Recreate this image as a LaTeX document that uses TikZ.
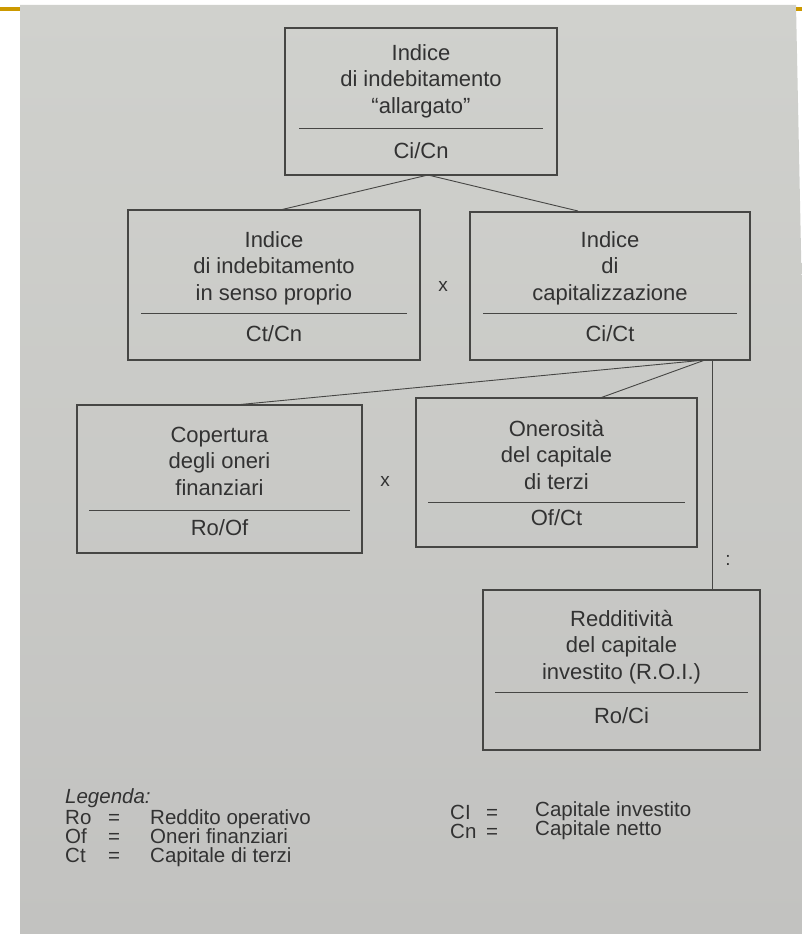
\documentclass[tikz,border=0pt]{standalone}
\usepackage{fontspec}
\setmainfont{Liberation Sans}
\definecolor{pagetop}{RGB}{208,209,205}
\definecolor{pagebot}{RGB}{194,194,192}
\definecolor{ink}{RGB}{50,50,50}
\definecolor{linec}{RGB}{70,70,68}
\definecolor{barc}{RGB}{204,153,0}
\tikzset{
  box/.style={draw=linec, line width=1.2pt, rectangle, inner sep=0pt},
  lbl/.style={text=ink, align=center, font=\fontsize{22}{26.5}\selectfont, inner sep=0pt},
  divider/.style={draw=linec, line width=0.9pt},
  conn/.style={draw=linec, line width=0.9pt},
  leg/.style={text=ink, anchor=base west, font=\fontsize{20.5}{22}\selectfont, inner sep=0pt},
  opx/.style={text=ink, font=\fontsize{19}{22}\selectfont, inner sep=0pt}
}
\begin{document}
\begin{tikzpicture}[x=1pt,y=-1pt]
\useasboundingbox (0,0) rectangle (802,934);
\fill[white] (0,0) rectangle (802,934);
\shade[top color=pagetop, bottom color=pagebot] (20,5) -- (796,5) -- (802,300) -- (802,934) -- (20,934) -- cycle;
\fill[barc] (0,7) rectangle (20,11);
\fill[barc] (796,7) rectangle (802,11);

% top box
\node[box, minimum width=272, minimum height=147] (top) at (421,101.5) {};
\node[lbl] (topt) at (421,81) {Indice\\di indebitamento\\“allargato”};
\node[lbl] (topf) at (421,151) {Ci/Cn};
\draw[divider] ([xshift=15]top.west |- 0,128) coordinate (topd1) -- ([xshift=-15]top.east |- 0,128) coordinate (topd2);

% middle left
\node[box, minimum width=292, minimum height=150] (ml) at (274,285) {};
\node[lbl] (mlt) at (274,268) {Indice\\di indebitamento\\in senso proprio};
\node[lbl] (mlf) at (274,334) {Ct/Cn};
\draw[divider] ([xshift=14]ml.west |- 0,313) coordinate (mld1) -- ([xshift=-14]ml.east |- 0,313) coordinate (mld2);

% middle right
\node[box, minimum width=280, minimum height=148] (mr) at (610,286) {};
\node[lbl] (mrt) at (610,268) {Indice\\di\\capitalizzazione};
\node[lbl] (mrf) at (610,334) {Ci/Ct};
\draw[divider] ([xshift=14]mr.west |- 0,313) coordinate (mrd1) -- ([xshift=-14]mr.east |- 0,313) coordinate (mrd2);

\node[opx] (x1) at (443,286) {x};

% bottom left
\node[box, minimum width=285, minimum height=148] (bl) at (219.5,479) {};
\node[lbl] (blt) at (219.5,461) {Copertura\\degli oneri\\finanziari};
\node[lbl] (blf) at (219.5,528) {Ro/Of};
\draw[divider] ([xshift=13]bl.west |- 0,510) coordinate (bld1) -- ([xshift=-13]bl.east |- 0,510) coordinate (bld2);

% onerosita
\node[box, minimum width=281, minimum height=149] (on) at (556.5,472.5) {};
\node[lbl] (ont) at (556.5,455) {Onerosità\\del capitale\\di terzi};
\node[lbl] (onf) at (556.5,518) {Of/Ct};
\draw[divider] ([xshift=13]on.west |- 0,502) coordinate (ond1) -- ([xshift=-13]on.east |- 0,502) coordinate (ond2);

\node[opx] (x2) at (385,481) {x};

% ROI
\node[box, minimum width=277, minimum height=160] (roi) at (621.5,670) {};
\node[lbl] (roit) at (621.5,647) {Redditività\\del capitale\\investito (R.O.I.)};
\node[lbl] (roif) at (621.5,716) {Ro/Ci};
\draw[divider] ([xshift=13]roi.west |- 0,692) coordinate (roid1) -- ([xshift=-13]roi.east |- 0,692) coordinate (roid2);

\node[opx] (col) at (728,560) {:};

% connectors
\coordinate (topb) at (428,175);
\coordinate (mlin) at (280,210);
\coordinate (mrin) at (578,211);
\draw[conn] (topb) -- (mlin);
\draw[conn] (topb) -- (mrin);
\coordinate (mrb) at (705,360);
\coordinate (blin) at (235,405);
\coordinate (onin) at (600,398);
\coordinate (vtop) at (712,360);
\coordinate (vbot) at (712,590);
\draw[conn] (mrb) -- (blin);
\draw[conn] (mrb) -- (onin);
\draw[conn] (vtop) -- (vbot);

% legend
\node[leg, font=\fontsize{20.5}{22}\selectfont\itshape] (lg) at (65,803) {Legenda:};
\node[leg] (k1) at (65,824) {Ro};
\node[leg] (e1) at (108,824) {=};
\node[leg] (d1) at (150,824) {Reddito operativo};
\node[leg] (k2) at (65,843) {Of};
\node[leg] (e2) at (108,843) {=};
\node[leg] (d2) at (150,843) {Oneri finanziari};
\node[leg] (k3) at (65,862) {Ct};
\node[leg] (e3) at (108,862) {=};
\node[leg] (d3) at (150,862) {Capitale di terzi};
\node[leg] (k4) at (450,819) {CI};
\node[leg] (e4) at (486,819) {=};
\node[leg] (d4) at (535,816) {Capitale investito};
\node[leg] (k5) at (450,838) {Cn};
\node[leg] (e5) at (486,838) {=};
\node[leg] (d5) at (535,835) {Capitale netto};
\end{tikzpicture}
\end{document}
